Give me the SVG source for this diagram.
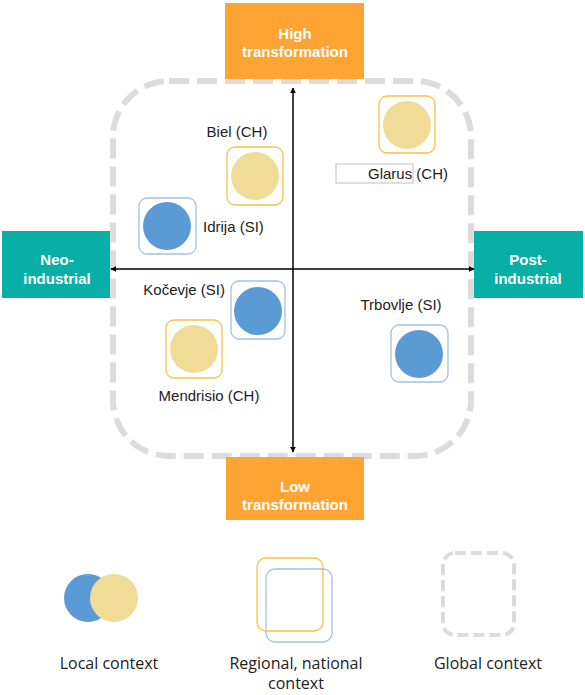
<svg xmlns="http://www.w3.org/2000/svg" width="585" height="695" viewBox="0 0 585 695">
<style>
.lbl{font-family:"Liberation Sans",Arial,sans-serif;font-size:15px;fill:#222}
.box{font-family:"Liberation Sans",Arial,sans-serif;font-size:15px;font-weight:bold;fill:#fff;text-anchor:middle}
.leg{font-family:"Open Sans","Liberation Sans",sans-serif;font-size:16px;fill:#222;text-anchor:middle}
.ych{fill:#fff;stroke:#F5C342;stroke-width:1.3}
.bsi{fill:#fff;stroke:#9DC3E6;stroke-width:1.3}
.yc{fill:#F0DC96}
.bc{fill:#5B9BD5}
.org{fill:#FFA333}
.teal{fill:#08AFA6}
.axis{stroke:#000;stroke-width:1.5;fill:none}
</style>
<defs>
<marker id="ah" viewBox="0 0 10 10" refX="9" refY="5" markerWidth="6" markerHeight="6" orient="auto-start-reverse" markerUnits="userSpaceOnUse">
<path d="M0,0 L10,5 L0,10 z" fill="#000"/>
</marker>
</defs>
<rect width="585" height="695" fill="#fff"/>
<g id="global-frame">
<rect x="113" y="81" width="358" height="375" rx="56" fill="none" stroke="#DCDCDC" stroke-width="6" stroke-dasharray="20 8"/>
</g>
<g id="connectors">
<line class="axis" x1="293" y1="452" x2="293" y2="88" marker-start="url(#ah)" marker-end="url(#ah)"/>
<line class="axis" x1="111" y1="269" x2="474" y2="269" marker-start="url(#ah)" marker-end="url(#ah)"/>
</g>
<g id="high">
<rect class="org" x="225" y="3" width="139" height="76"/>
<text class="box" x="295" y="39">High</text>
<text class="box" x="295" y="57">transformation</text>
</g>
<g id="low">
<rect class="org" x="226" y="457" width="138" height="63"/>
<text class="box" x="295" y="492">Low</text>
<text class="box" x="295" y="510">transformation</text>
</g>
<g id="neo">
<rect class="teal" x="2" y="231" width="108" height="67"/>
<text class="box" x="57" y="265">Neo-</text>
<text class="box" x="57" y="284">industrial</text>
</g>
<g id="post">
<rect class="teal" x="474" y="231" width="109" height="67"/>
<text class="box" x="528" y="265">Post-</text>
<text class="box" x="528" y="284">industrial</text>
</g>
<g id="glarus">
<rect class="ych" x="379" y="96" width="56" height="57" rx="8"/>
<circle class="yc" cx="407" cy="125" r="24"/>
<rect x="336" y="164" width="77" height="19" fill="#fff" stroke="#C0C0C0" stroke-width="1"/>
<text class="lbl" x="368" y="179">Glarus (CH)</text>
</g>
<g id="biel">
<text class="lbl" x="237" y="137" text-anchor="middle">Biel (CH)</text>
<rect class="ych" x="227" y="147" width="56" height="58" rx="8"/>
<circle class="yc" cx="255" cy="176" r="24"/>
</g>
<g id="idrija">
<rect class="bsi" x="139" y="198" width="57" height="56" rx="8"/>
<circle class="bc" cx="167" cy="226" r="24"/>
<text class="lbl" x="203" y="232">Idrija (SI)</text>
</g>
<g id="kocevje">
<text class="lbl" x="225" y="295" text-anchor="end">Kočevje (SI)</text>
<rect class="bsi" x="231" y="281" width="54" height="58" rx="8"/>
<circle class="bc" cx="258" cy="311" r="24"/>
</g>
<g id="mendrisio">
<rect class="ych" x="166" y="320" width="56" height="58" rx="8"/>
<circle class="yc" cx="194" cy="349" r="24"/>
<text class="lbl" x="209" y="401" text-anchor="middle">Mendrisio (CH)</text>
</g>
<g id="trbovlje">
<text class="lbl" x="401" y="310" text-anchor="middle">Trbovlje (SI)</text>
<rect class="bsi" x="391" y="325" width="57" height="57" rx="8"/>
<circle class="bc" cx="419" cy="354" r="24"/>
</g>
<g id="legend-local">
<circle class="bc" cx="88" cy="598" r="24"/>
<circle class="yc" cx="114" cy="598" r="24"/>
<text class="leg" x="109" y="669">Local context</text>
</g>
<g id="legend-regional">
<rect x="257" y="558" width="66" height="73" rx="9" fill="none" stroke="#F5C342" stroke-width="1.3"/>
<rect x="266" y="569" width="66" height="73" rx="9" fill="none" stroke="#9DC3E6" stroke-width="1.3"/>
<text class="leg" x="296" y="669">Regional, national</text>
<text class="leg" x="296" y="689">context</text>
</g>
<g id="legend-global">
<rect x="443" y="553" width="71" height="82" rx="12" fill="none" stroke="#DCDCDC" stroke-width="4" stroke-dasharray="11 5"/>
<text class="leg" x="488" y="669">Global context</text>
</g>
</svg>
